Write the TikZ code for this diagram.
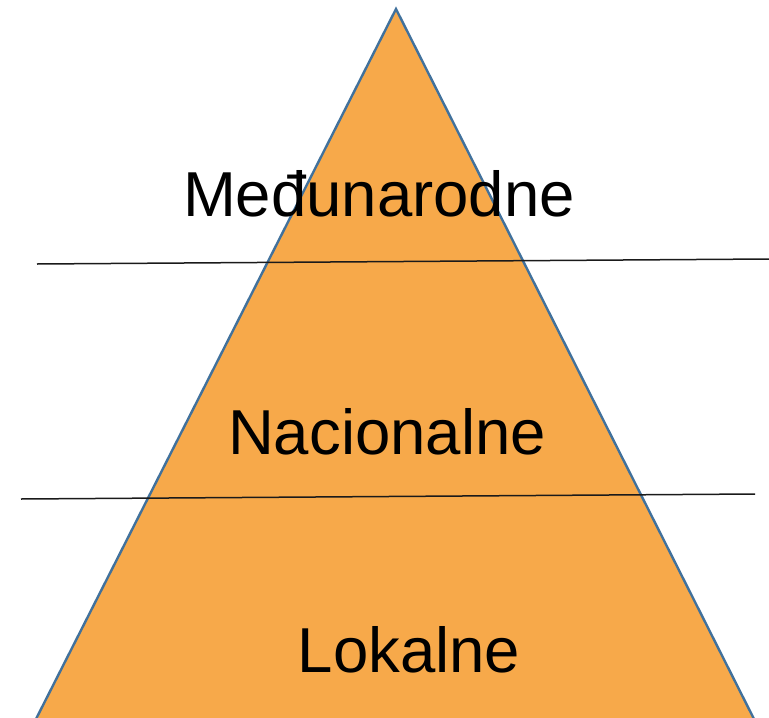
\documentclass[tikz,border=0pt]{standalone}
\usepackage{fontspec}
\setmainfont{Liberation Sans}
\definecolor{pyrfill}{HTML}{F7A94A}
\definecolor{pyredge}{HTML}{41719C}
\definecolor{divline}{HTML}{1A1A1A}
\begin{document}
\begin{tikzpicture}[x=1pt,y=-1pt,
  level/.style={anchor=base,inner sep=0pt,font=\fontsize{63.5}{70}\selectfont,text=black},
  divider/.style={draw=divline,line width=1.5pt}]
\useasboundingbox (0,0) rectangle (769,718);
\coordinate (apex) at (396,9);
\coordinate (bl) at (36,719);
\coordinate (br) at (754,719);
\fill[pyrfill] (apex) -- (br) -- (bl) -- cycle;
\draw[pyredge,line width=2.4pt,line join=miter] (bl) -- (apex) -- (br);
\coordinate (l1a) at (37,264);
\coordinate (l1b) at (769,259);
\coordinate (l2a) at (21,499);
\coordinate (l2b) at (755,494);
\draw[divider] (l1a) -- (l1b);
\draw[divider] (l2a) -- (l2b);
\node[level] (med) at (379,216) {Međunarodne};
\node[level] (nac) at (387,454) {Nacionalne};
\node[level] (lok) at (409,672) {Lokalne};
\end{tikzpicture}
\end{document}
